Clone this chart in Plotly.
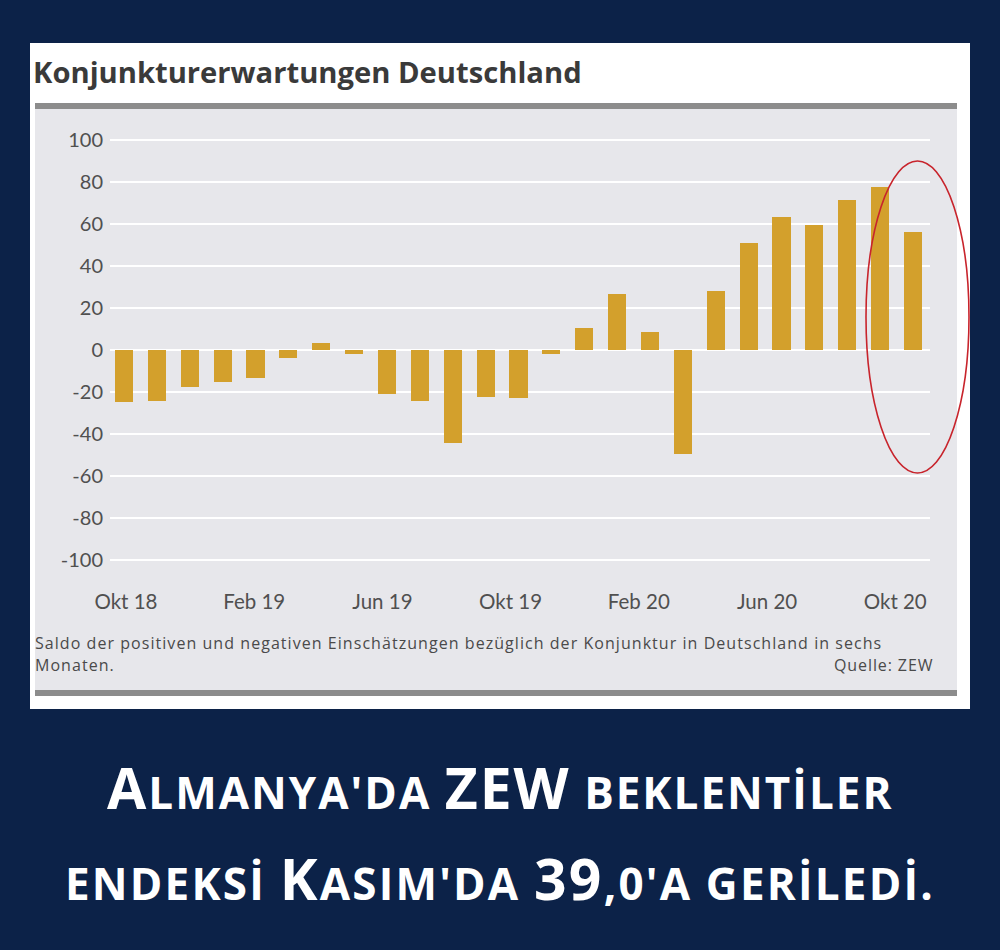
import plotly.graph_objects as go

# ---------------- data ----------------
MONTHS = ["Okt 18", "Nov 18", "Dez 18", "Jan 19", "Feb 19", "Mär 19", "Apr 19",
          "Mai 19", "Jun 19", "Jul 19", "Aug 19", "Sep 19", "Okt 19", "Nov 19",
          "Dez 19", "Jan 20", "Feb 20", "Mär 20", "Apr 20", "Mai 20", "Jun 20",
          "Jul 20", "Aug 20", "Sep 20", "Okt 20"]
VALUES = [-24.7, -24.1, -17.5, -15.0, -13.4, -3.6, 3.1, -2.1, -21.1, -24.5,
          -44.1, -22.5, -22.8, -2.1, 10.7, 26.7, 8.7, -49.5, 28.2, 51.0,
          63.4, 59.3, 71.5, 77.4, 56.1]
TICK_LABELS = ["Okt 18", "Feb 19", "Jun 19", "Okt 19", "Feb 20", "Jun 20", "Okt 20"]
Y_TICKS = [100, 80, 60, 40, 20, 0, -20, -40, -60, -80, -100]

TITLE = "Konjunkturerwartungen Deutschland"
NOTE_1 = "Saldo der positiven und negativen Einschätzungen bezüglich der Konjunktur in Deutschland in sechs"
NOTE_2 = "Monaten."
SOURCE = "Quelle: ZEW"
HEAD_1 = "Almanya'da ZEW beklentiler"
HEAD_2 = "endeksi Kasım'da 39,0'a geriledi."

# ---------------- style ----------------
W, H = 1000, 950
NAVY = "#0c2248"
BAR = "#d3a02c"
PANEL_GRAY = "#e7e7eb"
RULE_GRAY = "#8c8c8c"
TICK_GRAY = "#505050"
NOTE_GRAY = "#4a4a4a"

x_index = list(range(len(MONTHS)))
# label positions (slightly compressed relative to bars, as in the original)
tick_pos = [MONTHS.index(t) * 0.975 + 0.06 for t in TICK_LABELS]


def px(x):
    return x / W


def py(y):
    return 1 - y / H


def spaced(t, spacing):
    return f'<span style="letter-spacing:{spacing}px">{t}</span>'


def smallcaps(s, big, small, spacing):
    runs = []
    for ch in s:
        if ch.isupper() or ch in "39":
            size, c = big, ch
        else:
            size = small
            c = {"i": "İ", "ı": "I"}.get(ch, ch.upper())
        if runs and runs[-1][0] == size:
            runs[-1][1] += c
        else:
            runs.append([size, c])
    return "".join(
        f'<span style="font-size:{sz}px;letter-spacing:{spacing}px">{t}</span>'
        for sz, t in runs)


fig = go.Figure()
fig.add_trace(go.Bar(
    x=x_index, y=VALUES, width=0.55,
    marker=dict(color=BAR, line=dict(width=0)),
    hovertext=MONTHS, showlegend=False,
))

shapes = [
    dict(type="rect", xref="paper", yref="paper", x0=px(30), x1=px(970),
         y0=py(709), y1=py(43), fillcolor="white", line=dict(width=0), layer="below"),
    dict(type="rect", xref="paper", yref="paper", x0=px(35), x1=px(957),
         y0=py(693), y1=py(106), fillcolor=PANEL_GRAY, line=dict(width=0), layer="below"),
    dict(type="rect", xref="paper", yref="paper", x0=px(35), x1=px(957),
         y0=py(109), y1=py(103), fillcolor=RULE_GRAY, line=dict(width=0), layer="below"),
    dict(type="rect", xref="paper", yref="paper", x0=px(35), x1=px(957),
         y0=py(696), y1=py(690), fillcolor=RULE_GRAY, line=dict(width=0), layer="below"),
    dict(type="circle", xref="paper", yref="paper", x0=px(866), x1=px(969),
         y0=py(473), y1=py(161), line=dict(color="#c8242c", width=1.6), layer="above"),
]

HEAD_FONT = dict(family="Open Sans", size=44, color="white", weight=700)
NOTE_FONT = dict(family="Open Sans", size=16, color=NOTE_GRAY)

annotations = [
    dict(text=f"<b>{TITLE}</b>", xref="paper", yref="paper", x=px(31), y=py(72),
         xanchor="left", yanchor="middle", showarrow=False,
         font=dict(family="Open Sans", size=29.2, color="#3a3a3a")),
    dict(text=spaced(NOTE_1, 1.05), xref="paper", yref="paper", x=px(33), y=py(643),
         xanchor="left", yanchor="middle", showarrow=False, font=NOTE_FONT),
    dict(text=spaced(NOTE_2, 1.05), xref="paper", yref="paper", x=px(33), y=py(665),
         xanchor="left", yanchor="middle", showarrow=False, font=NOTE_FONT),
    dict(text=spaced(SOURCE, 0.9), xref="paper", yref="paper", x=px(935), y=py(665),
         xanchor="right", yanchor="middle", showarrow=False, font=NOTE_FONT),
    dict(text=smallcaps(HEAD_1, 57, 44, 2), xref="paper", yref="paper",
         x=0.5, y=py(787), xanchor="center", yanchor="middle", showarrow=False,
         font=HEAD_FONT),
    dict(text=smallcaps(HEAD_2, 57, 44, 2.2), xref="paper", yref="paper",
         x=0.5, y=py(878), xanchor="center", yanchor="middle", showarrow=False,
         font=HEAD_FONT),
]

fig.update_layout(
    width=W, height=H,
    margin=dict(l=0, r=0, t=0, b=0, pad=0),
    paper_bgcolor=NAVY,
    plot_bgcolor="rgba(0,0,0,0)",
    shapes=shapes,
    annotations=annotations,
    bargap=0,
    xaxis=dict(
        domain=[px(110), px(930)],
        range=[(110 - 124) / 32.875, (930 - 124) / 32.875],
        tickmode="array", tickvals=tick_pos, ticktext=TICK_LABELS,
        showgrid=False, zeroline=False, showline=False, ticks="",
        ticklabelstandoff=17, automargin=False,
        tickfont=dict(family="Lato", size=20.5, color=TICK_GRAY),
        fixedrange=True,
    ),
    yaxis=dict(
        domain=[py(570), py(130)],
        range=[-104.76, 104.76],
        tickmode="array", tickvals=Y_TICKS, ticktext=[str(v) for v in Y_TICKS],
        showgrid=True, gridcolor="white", gridwidth=2,
        zeroline=True, zerolinecolor="white", zerolinewidth=2,
        showline=False, ticks="", ticklabelstandoff=6, automargin=False,
        tickfont=dict(family="Lato", size=20, color=TICK_GRAY),
        fixedrange=True,
    ),
)

fig.write_html(
    "out.html",
    config={"responsive": False, "displayModeBar": False},
    post_script="document.body.style.margin='0';document.body.style.overflow='hidden';",
)
